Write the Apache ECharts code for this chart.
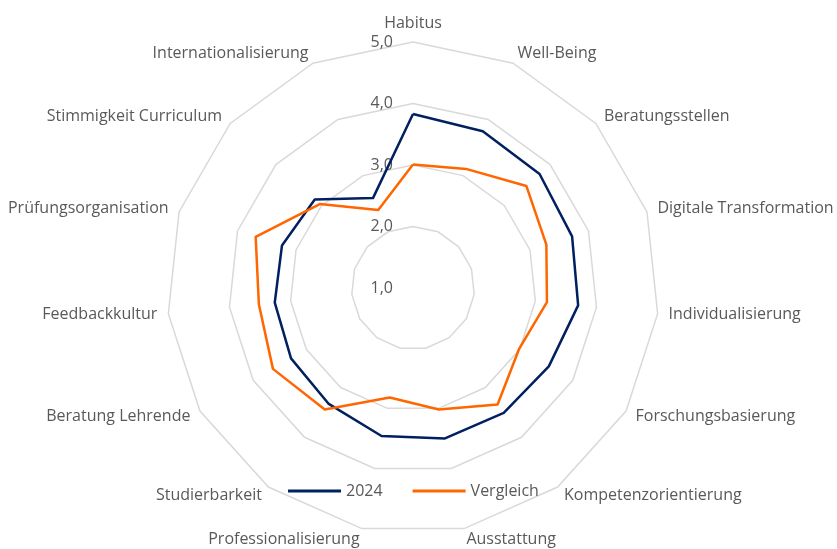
<!DOCTYPE html>
<html>
<head>
<meta charset="utf-8">
<script src="https://cdn.jsdelivr.net/npm/echarts@6/dist/echarts.min.js"></script>
<style>
  html, body { margin: 0; padding: 0; background: #fff; }
  #chart { width: 837px; height: 549px; }
</style>
</head>
<body>
<div id="chart"></div>
<script>
// categories clockwise from the top
const categories = [
  'Habitus', 'Well-Being', 'Beratungsstellen', 'Digitale Transformation',
  'Individualisierung', 'Forschungsbasierung', 'Kompetenzorientierung',
  'Ausstattung', 'Professionalisierung', 'Studierbarkeit', 'Beratung Lehrende',
  'Feedbackkultur', 'Prüfungsorganisation', 'Stimmigkeit Curriculum',
  'Internationalisierung'
]
const values2024 = [3.83, 3.79, 3.77, 3.72, 3.70, 3.55, 3.51, 3.50, 3.46, 3.33, 3.29, 3.26, 3.24, 3.15, 2.60]
const valuesVergleich = [3.01, 3.12, 3.48, 3.28, 3.19, 2.99, 3.34, 3.02, 2.82, 3.44, 3.63, 3.52, 3.69, 3.04, 2.39]
const seriesNames = ['2024', 'Vergleich']
const scaleMin = 1
const scaleMax = 5

// echarts lays out radar indicators counter-clockwise, so keep the first and flip the rest
function toCcw(arr) {
  return [arr[0]].concat(arr.slice(1).reverse())
}

const textColor = '#595959'
const font = '"Open Sans", sans-serif'

const chart = echarts.init(document.getElementById('chart'))

const indicator = toCcw(categories).map(function(name, i) {
  return {
    name: name,
    min: scaleMin,
    max: scaleMax,
    axisLabel: { show: i === 0 }
  }
})

const option = {
  animation: false,
  legend: {
    data: seriesNames,
    left: 283,
    top: 478,
    itemWidth: 53,
    itemHeight: 3,
    itemGap: 30,
    icon: 'rect',
    textStyle: { color: textColor, fontSize: 16, fontFamily: font }
  },
  radar: {
    center: [413, 288],
    radius: 246,
    startAngle: 90,
    splitNumber: 4,
    shape: 'polygon',
    indicator: indicator,
    nameGap: 11,
    axisName: { color: textColor, fontSize: 16, fontFamily: font },
    axisLine: { show: false },
    axisTick: { show: false },
    splitArea: { show: false },
    splitLine: { lineStyle: { color: '#D9D9D9', width: 1.5 } },
    axisLabel: {
      show: true,
      color: textColor,
      fontSize: 16,
      fontFamily: font,
      margin: 20,
      formatter: function(v) { return v.toFixed(1).replace('.', ',') }
    }
  },
  series: [
    {
      type: 'radar',
      symbol: 'none',
      data: [
        {
          name: seriesNames[0],
          value: toCcw(values2024),
          lineStyle: { color: '#002060', width: 2.5 },
          itemStyle: { color: '#002060' }
        },
        {
          name: seriesNames[1],
          value: toCcw(valuesVergleich),
          lineStyle: { color: '#FF6600', width: 2.5 },
          itemStyle: { color: '#FF6600' }
        }
      ]
    }
  ]
}

chart.setOption(option)
</script>
</body>
</html>
